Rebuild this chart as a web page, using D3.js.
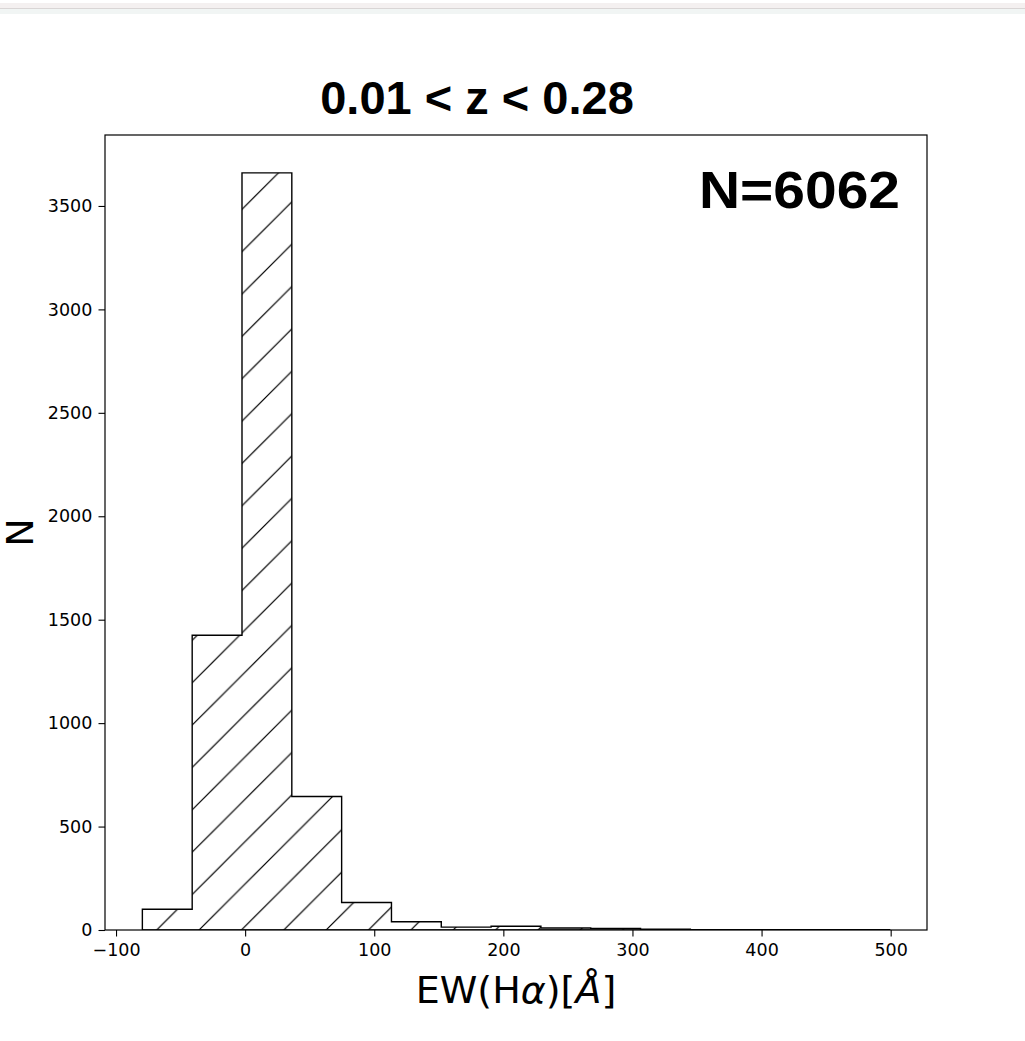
<!DOCTYPE html>
<html>
<head>
<meta charset="utf-8">
<script src="https://cdn.jsdelivr.net/npm/d3@7"></script>
<style>
  html, body { margin: 0; padding: 0; background: #fff; }
  svg { display: block; }
</style>
</head>
<body>
<svg id="chart" width="1025" height="1041"></svg>
<script>
// ---- data ----
const binEdges = [-79.6, -41.01, -2.43, 36.16, 74.75, 113.34, 151.92, 190.51, 229.10, 267.68, 306.27, 344.86, 383.44, 422.03, 460.62, 499.2];
const binCounts = [100, 1425, 3660, 645, 133, 40, 14, 18, 10, 8, 4, 2, 1, 1, 1];
const xTicks = [-100, 0, 100, 200, 300, 400, 500];
const yTicks = [0, 500, 1000, 1500, 2000, 2500, 3000, 3500];
const titleText = "0.01 < z < 0.28";
const countLabel = "N=6062";
const yLabel = "N";

// ---- layout ----
const plot = { left: 105, right: 927, top: 135, bottom: 930 };
const svg = d3.select("#chart");

// top browser strip seen in the reference
svg.append("rect").attr("x", 0).attr("y", 3).attr("width", 1025).attr("height", 5).attr("fill", "#f4f0f0");
svg.append("rect").attr("x", 0).attr("y", 8).attr("width", 1025).attr("height", 1).attr("fill", "#d9d5d5");
svg.append("rect").attr("x", 0).attr("y", 9).attr("width", 1025).attr("height", 5).attr("fill", "#f1f5f4");

const xmin = binEdges[0], xmax = binEdges[binEdges.length - 1];
const R = xmax - xmin;
const x = d3.scaleLinear().domain([xmin - 0.05 * R, xmax + 0.05 * R]).range([plot.left, plot.right]);
const ymax = d3.max(binCounts) * 1.05;
const y = d3.scaleLinear().domain([0, ymax]).range([plot.bottom, plot.top]);

// hatch pattern ('/' hatch, anchored in device space)
const P = 42.36, c = 27.7;
const defs = svg.append("defs");
const pat = defs.append("pattern")
  .attr("id", "hatch")
  .attr("patternUnits", "userSpaceOnUse")
  .attr("x", 0).attr("y", 0)
  .attr("width", P).attr("height", P);
let hp = "";
for (let k = -1; k <= 2; k++) {
  const s = c + k * P; // x + y = s
  hp += `M${s + 5},${-5}L${-5},${s + 5}`;
}
pat.append("path").attr("d", hp).attr("stroke", "#000").attr("stroke-width", 1.15).attr("fill", "none");

defs.append("clipPath").attr("id", "plotclip")
  .append("rect").attr("x", plot.left).attr("y", plot.top)
  .attr("width", plot.right - plot.left).attr("height", plot.bottom - plot.top);

// step polygon built from the bins
const pts = [[binEdges[0], 0]];
binCounts.forEach((v, i) => {
  pts.push([binEdges[i], v]);
  pts.push([binEdges[i + 1], v]);
});
pts.push([xmax, 0]);
const line = d3.line().x(d => x(d[0])).y(d => y(d[1]));

const g = svg.append("g").attr("clip-path", "url(#plotclip)");
g.append("path").attr("d", line(pts) + "Z")
  .attr("fill", "url(#hatch)").attr("stroke", "none");
g.append("path").attr("d", line(pts) + "Z")
  .attr("fill", "none").attr("stroke", "#000").attr("stroke-width", 1.4)
  .attr("stroke-linejoin", "miter");

// axes
const fmt = d => (d < 0 ? "\u2212" + Math.abs(d) : String(d));
const xAxis = svg.append("g").attr("transform", `translate(0,${plot.bottom})`)
  .call(d3.axisBottom(x).tickValues(xTicks).tickFormat(fmt).tickSize(6.5).tickPadding(6.8));
const yAxis = svg.append("g").attr("transform", `translate(${plot.left},0)`)
  .call(d3.axisLeft(y).tickValues(yTicks).tickFormat(fmt).tickSize(6.5).tickPadding(6.2));
[xAxis, yAxis].forEach(a => {
  a.select(".domain").remove();
  a.selectAll(".tick line").attr("stroke", "#000").attr("stroke-width", 1.1);
  a.selectAll(".tick text").attr("fill", "#000")
    .style("font-family", "'DejaVu Sans', sans-serif").style("font-size", "17.5px");
});

// spines
svg.append("rect").attr("x", plot.left).attr("y", plot.top)
  .attr("width", plot.right - plot.left).attr("height", plot.bottom - plot.top)
  .attr("fill", "none").attr("stroke", "#000").attr("stroke-width", 1.2);

// title
svg.append("text").attr("x", 477).attr("y", 114.3)
  .attr("text-anchor", "middle")
  .style("font-family", "'Liberation Sans', Arial, sans-serif")
  .style("font-weight", "bold").style("font-size", "47px")
  .text(titleText);

// N annotation
svg.append("text").attr("x", 699).attr("y", 208.3)
  .attr("textLength", 201).attr("lengthAdjust", "spacingAndGlyphs")
  .style("font-family", "'Liberation Sans', Arial, sans-serif")
  .style("font-weight", "bold").style("font-size", "51.5px")
  .text(countLabel);

// y label
svg.append("text").attr("transform", "translate(33.3,532.5) rotate(-90)")
  .attr("text-anchor", "middle")
  .style("font-family", "'DejaVu Sans', sans-serif").style("font-size", "38px")
  .text(yLabel);

// x label with math parts
const xl = svg.append("text").attr("x", 516).attr("y", 1002.7)
  .attr("text-anchor", "middle")
  .style("font-family", "'DejaVu Sans', sans-serif").style("font-size", "38px");
xl.append("tspan").text("EW(H");
xl.append("tspan").style("font-style", "italic").text("\u03B1");
xl.append("tspan").text(")[");
xl.append("tspan").style("font-style", "italic").text("\u00C5");
xl.append("tspan").text("]");
</script>
</body>
</html>
